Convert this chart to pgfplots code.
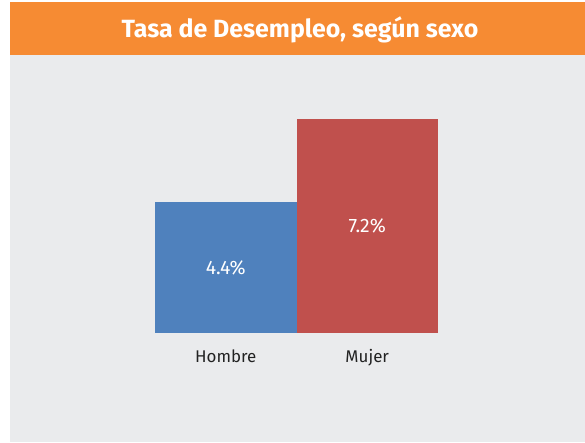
\documentclass[border=0pt]{standalone}
\usepackage{pgfplots}
\pgfplotsset{compat=1.18}
\usepackage{fontspec}
\setmainfont{Fira Sans}
\definecolor{orangebar}{HTML}{F68B33}
\definecolor{bgrey}{HTML}{EAEBED}
\definecolor{hblue}{HTML}{4F81BD}
\definecolor{mred}{HTML}{C0504D}
\definecolor{txt}{HTML}{222222}
\begin{document}
\begin{tikzpicture}[x=1bp,y=1bp]
\fill[white] (0,0) rectangle (585,-443);
\fill[bgrey] (10,-55) rectangle (585,-442);
\fill[orangebar] (10,-2) rectangle (585,-55);
\node[white, font=\fontsize{25}{28}\selectfont\bfseries, anchor=center] at (300,-30) {Tasa de Desempleo, según sexo};
\begin{axis}[
  at={(155bp,-333bp)}, anchor=south west,
  scale only axis, width=283bp, height=214.5bp,
  xmin=-0.5, xmax=1.5, ymin=0, ymax=7.2,
  axis line style={draw=none}, major tick length=0pt,
  ytick=\empty, xtick={0,1}, xticklabels={Hombre,Mujer},
  xticklabel style={font=\fontsize{17}{20}\selectfont, text=txt, yshift=-13bp},
  clip=false,
]
\addplot[ybar, bar width=1, fill=hblue, draw=none] coordinates {(0,4.4)};
\addplot[ybar, bar width=1, fill=mred, draw=none] coordinates {(1,7.2)};
\addplot[draw=none, mark=none, nodes near coords, point meta=explicit symbolic,
  nodes near coords style={anchor=center, text=white, font=\fontsize{19.5}{22}\selectfont}]
  coordinates {(0,2.2)[4.4\%] (1,3.6)[7.2\%]};
\end{axis}
\end{tikzpicture}
\end{document}
